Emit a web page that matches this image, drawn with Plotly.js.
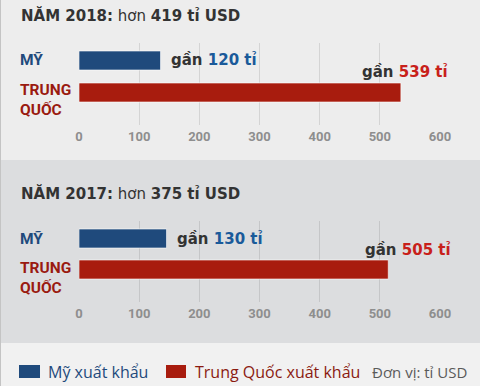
<!DOCTYPE html>
<html><head><meta charset="utf-8">
<script src="https://cdn.plot.ly/plotly-3.0.1.min.js"></script>
<style>html,body{margin:0;padding:0;background:#ececec;}#chart{width:480px;height:386px;}</style>
</head><body><div id="chart"></div>
<script>
// ---- data ----
const categories = ["MỸ", "TRUNG<br>QUỐC"];
const years = ["2018", "2017"];
const yearTotals = ["419", "375"];
const barValues2018 = [135.5, 535];
const barValues2017 = [145.5, 514];
const labelValues2018 = ["120", "539"];
const labelValues2017 = ["130", "505"];
const tickValues = [0, 100, 200, 300, 400, 500, 600];
const legendNames = ["Mỹ xuất khẩu", "Trung Quốc xuất khẩu"];
const unitText = "Đơn vị: tỉ USD";

// ---- style ----
const W = 480, H = 386;
const px = v => v / W;
const py = v => 1 - v / H;
const barColors = ["#1f4a7c", "#a81c0e"];
const labelColors = ["#1a5a9a", "#c8201a"];
const catColors = ["#1f4a7c", "#9a1a10"];
const condensed = "Roboto, sans-serif";
const sans = "DejaVu Sans, sans-serif";
const legendFont = "Open Sans, sans-serif";

const panels = [
  {vals: barValues2018, labs: labelValues2018, xa: "x", ya: "y", top: 43, bottom: 125, step: 32, lblEnd: 449},
  {vals: barValues2017, labs: labelValues2017, xa: "x2", ya: "y2", top: 221, bottom: 302, step: 31, lblEnd: 452}
];

const traces = panels.map(p => ({
  type: "bar", orientation: "h",
  x: p.vals, y: [0, 1],
  xaxis: p.xa, yaxis: p.ya,
  width: 19 / p.step,
  marker: {color: barColors, line: {color: "rgba(255,255,255,0.6)", width: 1}},
  hoverinfo: "none", showlegend: false
}));

const xdom = [px(79), px(440)];
function xAxis(anchor) {
  return {
    domain: xdom, range: [0, 600], anchor: anchor,
    tickvals: tickValues, ticktext: tickValues.map(v => "<b>" + v + "</b>"),
    showgrid: true, gridcolor: "rgba(0,0,0,0.1)", gridwidth: 1,
    zeroline: false, showline: false, ticks: "",
    ticklabelstandoff: 2,
    tickfont: {family: condensed, size: 13, color: "#8e8e8e"},
    fixedrange: true
  };
}
function yAxis(p, anchor) {
  const r0 = -(17.5 / p.step);
  const r1 = 1 + (p.bottom - p.top - 17.5 - p.step) / p.step;
  return {
    domain: [py(p.bottom), py(p.top)], range: [r1, r0], anchor: anchor,
    showgrid: false, zeroline: false, showticklabels: false, ticks: "", fixedrange: true
  };
}

const annotations = [];
const shapes = [
  {type: "rect", xref: "paper", yref: "paper", x0: 0, x1: 1, y0: py(160), y1: 1, fillcolor: "#ededed", line: {width: 0}, layer: "below"},
  {type: "rect", xref: "paper", yref: "paper", x0: 0, x1: 1, y0: py(343), y1: py(160), fillcolor: "#dcdddf", line: {width: 0}, layer: "below"},
  {type: "rect", xref: "paper", yref: "paper", x0: 0, x1: 1, y0: 0, y1: py(343), fillcolor: "#f1f1f1", line: {width: 0}, layer: "below"},
  {type: "line", xref: "paper", yref: "paper", x0: px(0.5), x1: px(0.5), y0: 0, y1: 1, line: {color: "#c4c4c4", width: 1}}
];

// titles
const titleY = [15, 193];
years.forEach((yr, i) => {
  annotations.push({
    xref: "paper", yref: "paper", x: px(19), y: py(titleY[i]), xanchor: "left", yanchor: "middle",
    text: "<b>NĂM " + yr + ":</b> hơn <b>" + yearTotals[i] + " tỉ USD</b>",
    showarrow: false, font: {family: sans, size: 15, color: "#333333"}
  });
});

panels.forEach((p, i) => {
  // category labels
  categories.forEach((c, j) => {
    annotations.push({
      xref: "paper", yref: p.ya, x: px(18), y: j, xanchor: "left", yanchor: "middle",
      yshift: j === 0 ? 0 : -8, align: "left",
      text: "<b>" + c + "</b>", showarrow: false,
      font: {family: condensed, size: 15.5, color: catColors[j]}
    });
  });
  // value labels
  annotations.push({
    xref: p.xa, yref: p.ya, x: p.vals[0], y: 0, xanchor: "left", yanchor: "middle", xshift: 8,
    text: "<b><span style='color:#333333'>gần</span> " + p.labs[0] + " tỉ</b>",
    showarrow: false, font: {family: sans, size: 15, color: labelColors[0]}
  });
  annotations.push({
    xref: "paper", yref: p.ya, x: px(p.lblEnd + 1), y: 0.36, xanchor: "right", yanchor: "middle",
    text: "<b><span style='color:#333333'>gần</span> " + p.labs[1] + " tỉ</b>",
    showarrow: false, font: {family: sans, size: 15, color: labelColors[1]}
  });
});

// legend
const legX = [[19, 40, 46], [166, 186, 193]];
legendNames.forEach((n, i) => {
  shapes.push({type: "rect", xref: "paper", yref: "paper", x0: px(legX[i][0]), x1: px(legX[i][1]),
    y0: py(378), y1: py(365), fillcolor: barColors[i], line: {width: 0}});
  annotations.push({xref: "paper", yref: "paper", x: px(legX[i][2]), y: py(372), xanchor: "left", yanchor: "middle",
    text: n, showarrow: false, font: {family: legendFont, size: 16, color: i === 0 ? "#1f4a7c" : "#8b1a10"}});
});
annotations.push({xref: "paper", yref: "paper", x: px(370), y: py(372), xanchor: "left", yanchor: "middle",
  text: unitText, showarrow: false, font: {family: legendFont, size: 15, color: "#5a5a5a"}});

const layout = {
  width: W, height: H,
  margin: {l: 0, r: 0, t: 0, b: 0},
  paper_bgcolor: "#ececec", plot_bgcolor: "rgba(0,0,0,0)",
  showlegend: false, bargap: 0,
  xaxis: xAxis("y"), yaxis: yAxis(panels[0], "x"),
  xaxis2: xAxis("y2"), yaxis2: yAxis(panels[1], "x2"),
  annotations: annotations, shapes: shapes
};

Plotly.newPlot("chart", traces, layout, {displayModeBar: false, staticPlot: true});
</script></body></html>
